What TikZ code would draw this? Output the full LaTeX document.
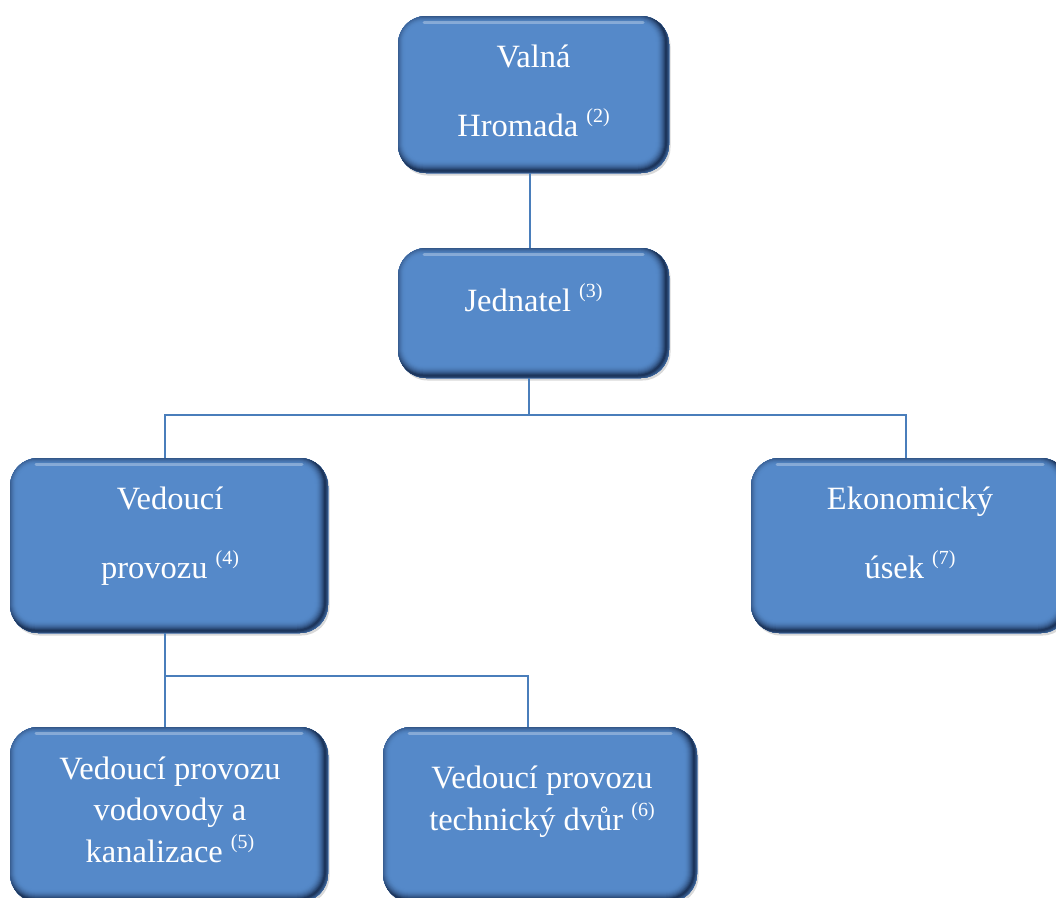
\documentclass[tikz,border=0pt]{standalone}
\usepackage{fontspec}
\setmainfont{Liberation Serif}
\usetikzlibrary{shadows,calc}

\definecolor{boxfill}{HTML}{5589C9}
\definecolor{boxedge}{HTML}{1A3257}
\definecolor{linkblue}{HTML}{4A7EBB}

% small raised reference number after a label
\newcommand{\refno}[1]{\raisebox{14pt}{\fontsize{20}{20}\selectfont(#1)}}

\tikzset{
  orgbox/.style={
    rounded corners=28pt, fill=boxfill, draw=none, inner sep=0pt,
    drop shadow={opacity=0.3, shadow xshift=1.5pt, shadow yshift=-2.5pt},
    path picture={
      % soft bevel: darker towards the rim, heavier along bottom and right
      \foreach \i in {1,...,10}{
        \pgfmathsetmacro\w{2*(11-\i)}
        \pgfmathsetmacro\m{\i*\i*0.95}
        \draw[line width=\w pt, color=boxedge!\m!boxfill, rounded corners=28pt]
          ([xshift=-3pt,yshift=2.5pt]path picture bounding box.south west)
          rectangle
          ([xshift=-3pt,yshift=2.5pt]path picture bounding box.north east);
      }
      % light streak under the top rim
      \draw[white, opacity=0.3, line width=3pt, line cap=round]
        ([xshift=26pt,yshift=-6pt]path picture bounding box.north west)
        -- ([xshift=-26pt,yshift=-6pt]path picture bounding box.north east);
    }},
  boxtext/.style={text=white, align=center, inner sep=0pt, anchor=base},
  dbl/.style={font=\fontsize{32.5}{69}\selectfont},
  sgl/.style={font=\fontsize{32.5}{41.5}\selectfont},
  link/.style={draw=linkblue, line width=2pt}
}

\begin{document}
\begin{tikzpicture}[x=1pt,y=-1pt]
\useasboundingbox (0,0) rectangle (1056,897);
\clip (0,0) rectangle (1056,897);

% boxes
\node[orgbox, minimum width=271pt, minimum height=157pt] (vh) at (533.5,94.5) {};
\node[orgbox, minimum width=271pt, minimum height=130pt] (jed) at (533.5,313) {};
\node[orgbox, minimum width=318pt, minimum height=175pt] (vp) at (169,545.5) {};
\node[orgbox, minimum width=318pt, minimum height=175pt] (eko) at (910,545.5) {};
\node[orgbox, minimum width=318pt, minimum height=175pt] (vvk) at (169,814.5) {};
\node[orgbox, minimum width=314pt, minimum height=175pt] (tdv) at (540,814.5) {};

% labels (anchored at the baseline of their last line)
\node[boxtext, dbl] (vh-t) at (533.5,136) {Valná\\Hromada \refno{2}};
\node[boxtext, sgl] (jed-t) at (533.5,311) {Jednatel \refno{3}};
\node[boxtext, dbl] (vp-t) at (170,578) {Vedoucí\\provozu \refno{4}};
\node[boxtext, dbl] (eko-t) at (910,578) {Ekonomický\\úsek \refno{7}};
\node[boxtext, sgl] (vvk-t) at (170,862) {Vedoucí provozu\\vodovody a\\kanalizace \refno{5}};
\node[boxtext, sgl] (tdv-t) at (542,830) {Vedoucí provozu\\technický dvůr \refno{6}};

% connectors between the boxes
\draw[link] ([xshift=-4pt]vh.south) -- ([xshift=-4pt]jed.north);
\draw[link] ([xshift=-5pt]jed.south) -- ++(0,37) coordinate (busA);
\draw[link] ([xshift=-4pt]vp.north) |- (busA) -| ([xshift=-4pt]eko.north);
\draw[link] ([xshift=-4pt]vp.south) -- ++(0,43) coordinate (busB);
\draw[link] ([xshift=-4pt]vvk.north) -- (busB) -| ([xshift=-12pt]tdv.north);
\end{tikzpicture}
\end{document}
